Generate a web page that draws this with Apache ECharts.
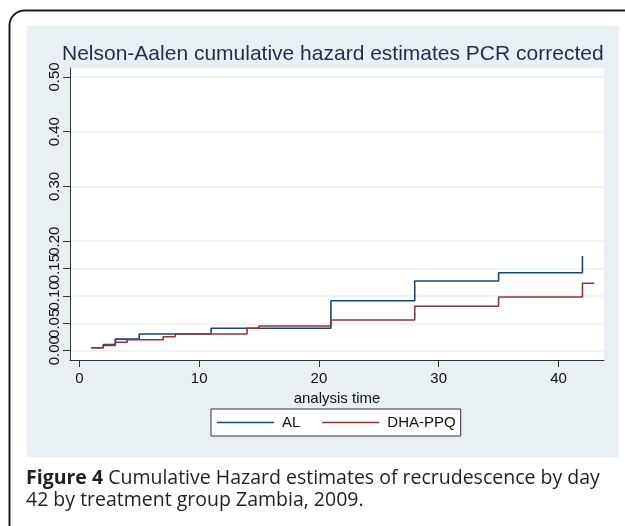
<!DOCTYPE html>
<html>
<head>
<meta charset="utf-8">
<script src="https://cdn.jsdelivr.net/npm/echarts@6/dist/echarts.min.js"></script>
<style>
html,body{margin:0;padding:0;background:#fff;}
#chart{width:625px;height:526px;}
</style>
</head>
<body>
<div id="chart"></div>
<script>
// ---- data ----
const seriesNames = ['AL', 'DHA-PPQ'];
const alTime  = [1, 2, 3, 5, 11, 21, 28, 35, 42];
const alHaz   = [0.0055, 0.011, 0.0212, 0.0305, 0.041, 0.0913, 0.1273, 0.1425, 0.173];
const dhaTime = [1, 2, 3, 4, 7, 8, 14, 15, 21, 28, 35, 42, 43];
const dhaHaz  = [0.0055, 0.0098, 0.0153, 0.020, 0.0256, 0.0305, 0.041, 0.0451, 0.0561, 0.0811, 0.0981, 0.1231, 0.1231];
const xTicks = [0, 10, 20, 30, 40];
const yTicks = [0, 0.05, 0.10, 0.15, 0.20, 0.30, 0.40, 0.50];
const yLabelsMain = [0, 0.10, 0.20, 0.30, 0.40, 0.50];
const yLabelsHalf = [0.05, 0.15];
const titleText = 'Nelson-Aalen cumulative hazard estimates PCR corrected';
const xName = 'analysis time';

const pairs = (xs, ys) => xs.map((x, i) => [x, ys[i]]);
const FONT = '"Liberation Sans", Arial, sans-serif';
const CAP_FONT = '"Open Sans", "Noto Sans", sans-serif';
const Y_MIN = -0.017, Y_MAX = 0.5164;
const yLabelStyle = {rotate: 90, margin: 8, showMinLabel: true, showMaxLabel: true,
  hideOverlap: false, fontFamily: FONT, fontSize: 15, color: '#111111',
  formatter: v => v.toFixed(2)};

const chart = echarts.init(document.getElementById('chart'), null, {renderer: 'canvas'});
chart.setOption({
  animation: false,
  backgroundColor: '#ffffff',
  title: {
    text: titleText,
    left: 62, top: 44, padding: 0,
    textStyle: {fontFamily: FONT, fontSize: 21, fontWeight: 'normal', color: '#1f2c4c'}
  },
  graphic: [
    {type: 'rect', z: -10, silent: true,
     shape: {x: 9.5, y: 10.5, width: 640, height: 560, r: 15},
     style: {fill: '#ffffff', stroke: '#231f20', lineWidth: 2}},
    {type: 'rect', z: -9, silent: true,
     shape: {x: 27, y: 26, width: 592, height: 431},
     style: {fill: '#e9f0f3'}},
    {type: 'text', left: 26, top: 467, silent: true,
     style: {
       text: '{b|Figure 4} Cumulative Hazard estimates of recrudescence by day\n42 by treatment group Zambia, 2009.',
       fontFamily: CAP_FONT, fontSize: 19.5, lineHeight: 22, fill: '#231f20',
       rich: {b: {fontWeight: 'bold', fontFamily: CAP_FONT, fontSize: 19.5, lineHeight: 22, fill: '#231f20'}}
     }}
  ],
  legend: {
    data: seriesNames,
    left: 211, top: 409,
    orient: 'horizontal',
    padding: [6, 5, 6, 6],
    itemGap: 22,
    itemWidth: 57, itemHeight: 1.6,
    icon: 'rect',
    backgroundColor: '#ffffff',
    borderColor: '#333333', borderWidth: 1, borderRadius: 0,
    textStyle: {fontFamily: FONT, fontSize: 15, color: '#111111', padding: [0, 0, 0, 3]}
  },
  grid: {
    left: 70, top: 68, right: 21, bottom: 166,
    show: true, backgroundColor: '#ffffff', borderWidth: 0
  },
  xAxis: {
    type: 'value',
    min: -0.78, max: 43.8,
    name: xName, nameLocation: 'middle', nameGap: 20,
    nameTextStyle: {fontFamily: FONT, fontSize: 15, color: '#111111'},
    axisLine: {show: true, onZero: false, lineStyle: {color: '#333333', width: 1}},
    axisTick: {show: true, length: 7, customValues: xTicks, lineStyle: {color: '#333333'}},
    axisLabel: {customValues: xTicks, margin: 11, showMinLabel: true, showMaxLabel: true,
      fontFamily: FONT, fontSize: 15, color: '#111111'},
    splitLine: {show: false}
  },
  yAxis: [
    {
      type: 'value', position: 'left',
      min: Y_MIN, max: Y_MAX,
      axisLine: {show: true, onZero: false, lineStyle: {color: '#333333', width: 1}},
      axisTick: {show: true, length: 7, customValues: yTicks, lineStyle: {color: '#333333'}},
      axisLabel: Object.assign({customValues: yLabelsMain}, yLabelStyle),
      splitLine: {show: true, lineStyle: {color: '#e8eff2', width: 1.5}}
    },
    {
      type: 'value', position: 'left', offset: 0,
      min: Y_MIN, max: Y_MAX,
      axisLine: {show: false},
      axisTick: {show: false},
      axisLabel: Object.assign({customValues: yLabelsHalf}, yLabelStyle),
      splitLine: {show: false}
    }
  ],
  series: [
    {name: seriesNames[0], type: 'line', step: 'end', symbol: 'none', yAxisIndex: 0,
     data: pairs(alTime, alHaz), color: '#1a476f', lineStyle: {width: 1.6, color: '#1a476f'}, z: 3},
    {name: seriesNames[1], type: 'line', step: 'end', symbol: 'none', yAxisIndex: 0,
     data: pairs(dhaTime, dhaHaz), color: '#90353b', lineStyle: {width: 1.6, color: '#90353b'}, z: 4}
  ]
});
</script>
</body>
</html>
